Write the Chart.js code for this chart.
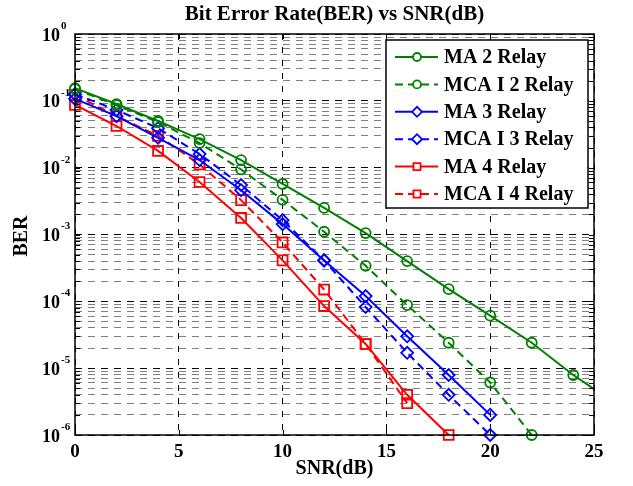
<!DOCTYPE html>
<html>
<head>
<meta charset="utf-8">
<script src="https://cdn.jsdelivr.net/npm/chart.js@4.4.0/dist/chart.umd.min.js"></script>
<style>
html, body { margin: 0; padding: 0; background: #fff; }
#wrap { width: 633px; height: 486px; }
</style>
</head>
<body>
<div id="wrap"><canvas id="berChart" width="633" height="486"></canvas></div>
<script>
// data

const ma2Snr = [0, 2, 4, 6, 8, 10, 12, 14, 16, 18, 20, 22, 24, 26];
const ma2Ber = [0.155, 0.0895, 0.050, 0.0268, 0.013, 0.0057, 0.0025, 0.00105, 4.0e-4, 1.52e-4, 6.1e-5, 2.4e-5, 7.9e-6, 3.0e-6];

const mca2Snr = [0, 2, 4, 6, 8, 10, 12, 14, 16, 18, 20, 22];
const mca2Ber = [0.15, 0.086, 0.048, 0.0233, 0.0094, 0.0033, 0.0011, 3.4e-4, 8.8e-5, 2.4e-5, 6.1e-6, 1e-6];

const ma3Snr = [0, 2, 4, 6, 8, 10, 12, 14, 16, 18, 20];
const ma3Ber = [0.107, 0.059, 0.028, 0.013, 0.0046, 0.00143, 4.1e-4, 1.2e-4, 3.0e-5, 7.9e-6, 2.0e-6];

const mca3Snr = [0, 2, 4, 6, 8, 10, 12, 14, 16, 18, 20];
const mca3Ber = [0.126, 0.073, 0.039, 0.016, 0.0055, 0.00164, 4.1e-4, 8.2e-5, 1.7e-5, 4.0e-6, 1e-6];

const ma4Snr = [0, 2, 4, 6, 8, 10, 12, 14, 16, 18];
const ma4Ber = [0.087, 0.042, 0.0178, 0.0061, 0.00177, 4.1e-4, 8.5e-5, 2.3e-5, 4.0e-6, 1e-6];

const mca4Snr = [0, 2, 4, 6, 8, 10, 12, 14, 16];
const mca4Ber = [0.122, 0.059, 0.030, 0.0112, 0.00327, 7.6e-4, 1.5e-4, 2.3e-5, 3.0e-6];

const seriesLabels = ['MA 2 Relay', 'MCA I 2 Relay', 'MA 3 Relay', 'MCA I 3 Relay', 'MA 4 Relay', 'MCA I 4 Relay'];
const xTicks = [0, 5, 10, 15, 20, 25];
const yDecades = [0, -1, -2, -3, -4, -5, -6];

const GREEN = '#008000';
const BLUE = '#0000ff';
const RED = '#ff0000';
const FONT = '"Liberation Serif", "Times New Roman", serif';

// y grid: decades plus 2..9 inside each decade
const yGrid = [];
yDecades.forEach((e) => {
    yGrid.push(Math.pow(10, e));
    if (e < 0) {
        for (let m = 2; m <= 9; m++) yGrid.push(m * Math.pow(10, e));
    }
});

const isDecade = function (v) {
    const l = Math.log10(v);
    return Math.abs(l - Math.round(l)) < 1e-6;
}

const toPoints = function (xs, ys) {
    return xs.map((x, i) => ({ x: x, y: ys[i] }));
}

const makeSet = function (label, xs, ys, color, dashed, style, radius) {
    return {
        label: label,
        data: toPoints(xs, ys),
        borderColor: color,
        borderWidth: 2,
        borderDash: dashed ? [8, 5] : [],
        pointStyle: style,
        pointRadius: (c) => (c.raw && c.raw.x > 25 ? 0 : radius),
        pointBorderWidth: 1.8,
        pointBorderColor: color,
        pointBackgroundColor: 'rgba(0,0,0,0)',
        pointHoverRadius: radius,
        tension: 0,
        clip: { left: 10, top: 10, right: 0, bottom: 10 }
    };
}

const datasets = [
    makeSet(seriesLabels[0], ma2Snr, ma2Ber, GREEN, false, 'circle', 5),
    makeSet(seriesLabels[1], mca2Snr, mca2Ber, GREEN, true, 'circle', 5),
    makeSet(seriesLabels[2], ma3Snr, ma3Ber, BLUE, false, 'rectRot', 6),
    makeSet(seriesLabels[3], mca3Snr, mca3Ber, BLUE, true, 'rectRot', 6),
    makeSet(seriesLabels[4], ma4Snr, ma4Ber, RED, false, 'rect', 7),
    makeSet(seriesLabels[5], mca4Snr, mca4Ber, RED, true, 'rect', 7)
];

// axes box, inside ticks, tick labels, titles, legend
const decorPlugin = {
    id: 'decor',
    afterDraw(chart) {
        const ctx = chart.ctx;
        const area = chart.chartArea;
        const xs = chart.scales.x;
        const ys = chart.scales.y;
        ctx.save();
        ctx.setLineDash([]);
        ctx.strokeStyle = '#000';

        // ticks
        ctx.lineWidth = 1;
        ctx.beginPath();
        yGrid.forEach((v) => {
            const y = Math.round(ys.getPixelForValue(v)) + 0.5;
            ctx.moveTo(area.left, y); ctx.lineTo(area.left + 5, y);
            ctx.moveTo(area.right, y); ctx.lineTo(area.right - 5, y);
        });
        xTicks.forEach((v) => {
            const x = Math.round(xs.getPixelForValue(v)) + 0.5;
            ctx.moveTo(x, area.bottom); ctx.lineTo(x, area.bottom - 5);
            ctx.moveTo(x, area.top); ctx.lineTo(x, area.top + 5);
        });
        ctx.stroke();

        // box
        ctx.lineWidth = 1.5;
        ctx.strokeRect(area.left, area.top, area.right - area.left, area.bottom - area.top);

        // y tick labels 10^e
        ctx.fillStyle = '#000';
        ctx.textBaseline = 'middle';
        yDecades.forEach((e) => {
            const y = ys.getPixelForValue(Math.pow(10, e));
            ctx.font = 'bold 18px ' + FONT;
            ctx.textAlign = 'right';
            ctx.fillText('10', area.left - 15, y + 2);
            ctx.font = 'bold 11px ' + FONT;
            ctx.textAlign = 'left';
            ctx.fillText(String(e), area.left - 14, y - 8);
        });

        // x tick labels
        ctx.font = 'bold 19px ' + FONT;
        ctx.textAlign = 'center';
        xTicks.forEach((v) => {
            ctx.fillText(String(v), xs.getPixelForValue(v), area.bottom + 17);
        });

        // titles
        const cx = (area.left + area.right) / 2;
        ctx.textAlign = 'center';
        ctx.font = 'bold 21px ' + FONT;
        ctx.fillText('Bit Error Rate(BER) vs SNR(dB)', cx, 15);
        ctx.font = 'bold 20px ' + FONT;
        ctx.fillText('SNR(dB)', cx, 469);
        ctx.save();
        ctx.translate(22, 236);
        ctx.rotate(-Math.PI / 2);
        ctx.fillText('BER', 0, 0);
        ctx.restore();

        // legend
        const lx = 386, ly = 40, lw = 202, lh = 168;
        ctx.fillStyle = '#fff';
        ctx.fillRect(lx, ly, lw, lh);
        ctx.lineWidth = 1.5;
        ctx.strokeStyle = '#000';
        ctx.strokeRect(lx, ly, lw, lh);
        chart.data.datasets.forEach((ds, i) => {
            const y = 57 + i * 27.4;
            ctx.strokeStyle = ds.borderColor;
            ctx.lineWidth = 2;
            ctx.setLineDash(ds.borderDash);
            ctx.beginPath();
            ctx.moveTo(395, y);
            ctx.lineTo(438, y);
            ctx.stroke();
            ctx.setLineDash([]);
            ctx.fillStyle = '#fff';
            ctx.lineWidth = 1.8;
            Chart.helpers.drawPoint(ctx, {
                pointStyle: ds.pointStyle,
                radius: ds.pointStyle === 'circle' ? 4 : 5,
                rotation: 0,
                borderWidth: 1.8
            }, 417, y);
            ctx.fillStyle = '#000';
            ctx.font = 'bold 20px ' + FONT;
            ctx.textAlign = 'left';
            ctx.fillText(ds.label, 444, y + 1);
        });
        ctx.restore();
    }
};

new Chart('berChart', {
    type: 'line',
    data: { datasets: datasets },
    options: {
        responsive: false,
        devicePixelRatio: 1,
        animation: false,
        events: [],
        layout: { padding: { left: 75, right: 39, top: 34, bottom: 51 } },
        plugins: {
            legend: { display: false },
            title: { display: false },
            tooltip: { enabled: false }
        },
        scales: {
            x: {
                type: 'linear',
                min: 0,
                max: 25,
                afterBuildTicks: (s) => { s.ticks = xTicks.map((v) => ({ value: v })); },
                afterFit: (s) => { s.height = 0; },
                ticks: { display: false },
                grid: { color: '#000', lineWidth: 1, drawTicks: false },
                border: { display: false, dash: [6, 7] }
            },
            y: {
                type: 'logarithmic',
                min: 1e-6,
                max: 1,
                afterBuildTicks: (s) => { s.ticks = yGrid.map((v) => ({ value: v })); },
                afterFit: (s) => { s.width = 0; },
                ticks: { display: false },
                grid: {
                    color: (c) => (c.tick && isDecade(c.tick.value) ? '#000' : '#808080'),
                    lineWidth: 1,
                    drawTicks: false
                },
                border: { display: false, dash: [7, 6] }
            }
        }
    },
    plugins: [decorPlugin]
});
</script>
</body>
</html>
